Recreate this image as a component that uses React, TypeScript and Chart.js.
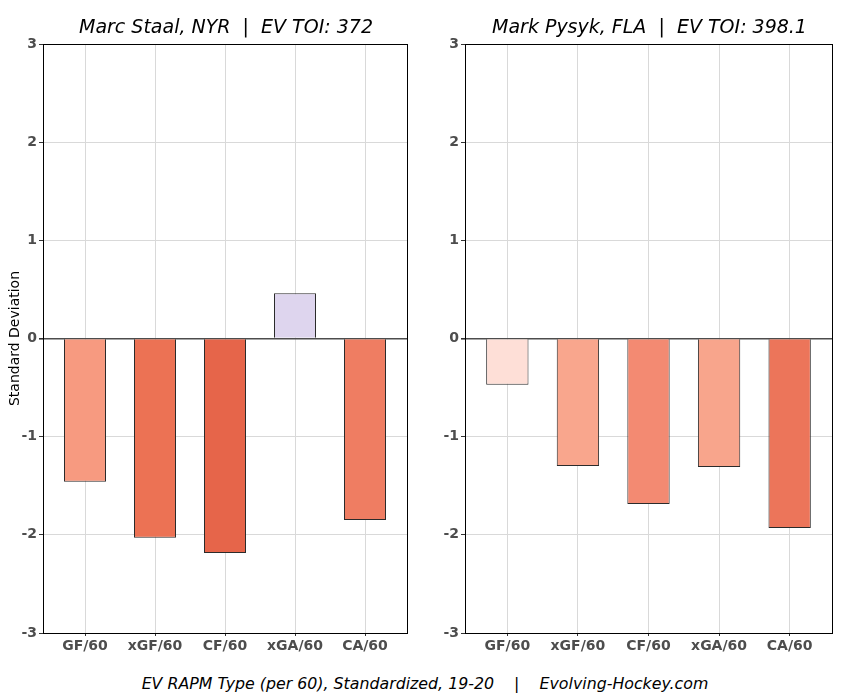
import React, { useEffect, useRef } from "react";
import { Chart, registerables } from "chart.js";

Chart.register(...registerables);

const categories = ["GF/60", "xGF/60", "CF/60", "xGA/60", "CA/60"];
const staalValues = [-1.46, -2.03, -2.185, 0.46, -1.85];
const staalColors = ["#f79a80", "#ec7254", "#e6654a", "#ded5ee", "#ef7d62"];
const pysykValues = [-0.47, -1.3, -1.685, -1.31, -1.93];
const pysykColors = ["#fedfd7", "#f9a68d", "#f38a72", "#f8a58c", "#ec755a"];
const yTicks = [-3, -2, -1, 0, 1, 2, 3];
const staalTitle = "Marc Staal, NYR  |  EV TOI: 372";
const pysykTitle = "Mark Pysyk, FLA  |  EV TOI: 398.1";
const caption = "EV RAPM Type (per 60), Standardized, 19-20    |    Evolving-Hockey.com";

const FONT = "'DejaVu Sans', sans-serif";

const framePlugin = {
  id: "frame",
  afterDraw(chart: any) {
    const { ctx, chartArea } = chart;
    ctx.save();
    ctx.strokeStyle = "#000";
    ctx.lineWidth = 1;
    ctx.strokeRect(
      Math.round(chartArea.left) + 0.5,
      Math.round(chartArea.top) + 0.5,
      Math.round(chartArea.right - chartArea.left),
      Math.round(chartArea.bottom - chartArea.top)
    );
    ctx.restore();
  },
};

function Panel(props: {
  values: number[];
  colors: string[];
  yWidth: number;
  showYTitle: boolean;
}) {
  const ref = useRef<HTMLCanvasElement | null>(null);
  useEffect(() => {
    if (!ref.current) return;
    const chart = new Chart(ref.current, {
      type: "bar",
      data: {
        datasets: [
          {
            data: props.values.map((v, i) => ({ x: i, y: v })),
            backgroundColor: props.colors,
            borderColor: "#2b2b2b",
            borderWidth: 1,
            barPercentage: 0.6,
            categoryPercentage: 1,
          },
        ],
      },
      options: {
        animation: false,
        responsive: false,
        maintainAspectRatio: false,
        layout: { padding: { top: 44, right: 18, left: 0, bottom: 0 } },
        plugins: { legend: { display: false }, tooltip: { enabled: false } },
        scales: {
          x: {
            type: "linear",
            offset: false,
            min: -0.6,
            max: 4.6,
            afterBuildTicks: (scale: any) => {
              scale.ticks = categories.map((_, i) => ({ value: i }));
            },
            afterFit: (scale: any) => {
              scale.height = 27;
            },
            ticks: {
              callback: (v: any) => categories[v as number] ?? "",
              font: { family: FONT, size: 14, weight: "bold" },
              color: "#4d4d4d",
              padding: 2,
              maxRotation: 0,
              autoSkip: false,
            },
            grid: { offset: false, color: "#d9d9d9", lineWidth: 1, tickColor: "#333", tickLength: 3 },
            border: { color: "#000", width: 1 },
          },
          y: {
            min: -3,
            max: 3,
            afterBuildTicks: (scale: any) => {
              scale.ticks = yTicks.map((v) => ({ value: v }));
            },
            afterFit: (scale: any) => {
              scale.width = props.yWidth;
            },
            ticks: {
              font: { family: FONT, size: 14, weight: "bold" },
              color: "#4d4d4d",
              padding: 2,
            },
            grid: {
              color: (c: any) => (c.tick && c.tick.value === 0 ? "#4d4d4d" : "#d9d9d9"),
              lineWidth: (c: any) => (c.tick && c.tick.value === 0 ? 1.6 : 1),
              tickColor: "#333",
              tickLength: 4,
            },
            border: { color: "#000", width: 1 },
            title: {
              display: props.showYTitle,
              text: "Standard Deviation",
              font: { family: FONT, size: 14 },
              color: "#000",
              padding: { top: 7, bottom: 0 },
            },
          },
        },
      },
      plugins: [framePlugin],
    } as any);
    return () => chart.destroy();
  }, []);
  return <canvas ref={ref} width={425} height={660} style={{ width: 425, height: 660, display: "block" }} />;
}

const titleStyle: React.CSSProperties = {
  position: "absolute",
  top: 13,
  fontFamily: FONT,
  fontStyle: "italic",
  fontSize: 19,
  whiteSpace: "pre",
  textAlign: "center",
  color: "#000",
  lineHeight: "26px",
};

export default function App() {
  return (
    <div style={{ position: "absolute", left: 0, top: 0, width: 850, height: 700, background: "#fff", overflow: "hidden" }}>
      <div style={{ position: "absolute", left: 0, top: 0 }}>
        <Panel values={staalValues} colors={staalColors} yWidth={43} showYTitle={true} />
      </div>
      <div style={{ position: "absolute", left: 425, top: 0 }}>
        <Panel values={pysykValues} colors={pysykColors} yWidth={40} showYTitle={false} />
      </div>
      <div style={{ ...titleStyle, left: 44, width: 364 }}>{staalTitle}</div>
      <div style={{ ...titleStyle, left: 466, width: 367 }}>{pysykTitle}</div>
      <div
        style={{
          position: "absolute",
          left: 0,
          width: 850,
          top: 673,
          textAlign: "center",
          fontFamily: FONT,
          fontStyle: "italic",
          fontSize: 15.8,
          whiteSpace: "pre",
          lineHeight: "22px",
          color: "#000",
        }}
      >
        {caption}
      </div>
    </div>
  );
}
